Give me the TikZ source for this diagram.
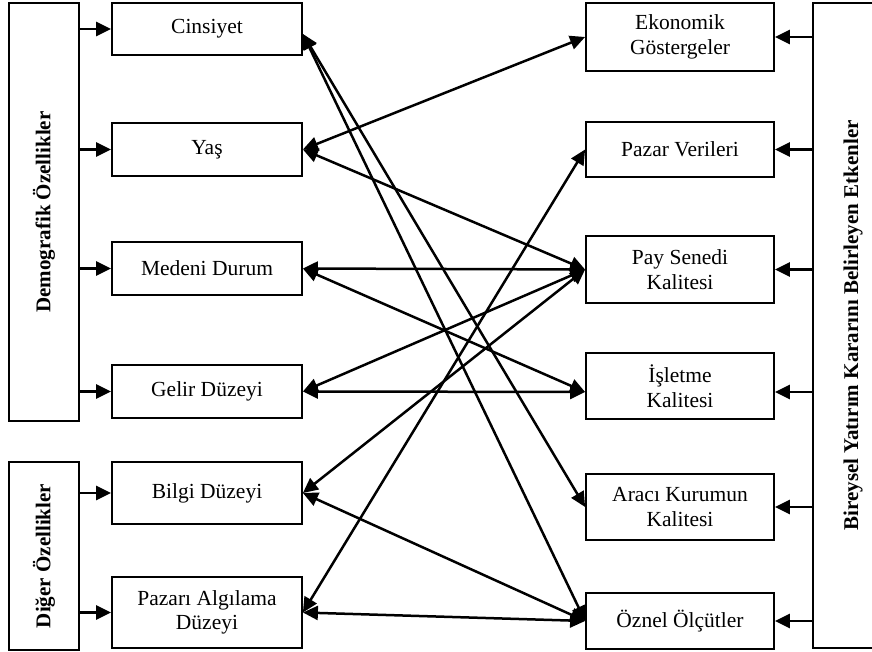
\documentclass[tikz,border=0pt]{standalone}
\usepackage{fontspec}
\setmainfont{Liberation Serif}
\usepackage{tikz}
\usetikzlibrary{arrows.meta,shapes}
\usepackage{tkz-graph}

\tikzset{
  bar/.style={draw, line width=1.8pt, minimum width=70pt, inner sep=0pt,
    font=\fontsize{21}{24}\selectfont\bfseries},
  box/.style={draw, rectangle, line width=1.8pt, minimum width=190pt,
    minimum height=53pt, align=center, inner sep=2pt,
    font=\fontsize{21.5}{24.5}\selectfont},
  rbox/.style={box, minimum width=188pt},
  feed/.style={->, line width=2.6pt},
}

\begin{document}
\begin{tikzpicture}[x=1pt,y=1pt,>={Triangle[length=15pt,width=14pt]}]
    \useasboundingbox (0,0) rectangle (872,652);
    \GraphInit[vstyle=Normal]
    \tikzset{EdgeStyle/.style={<->, line width=2.5pt},
      LabelStyle/.style={inner sep=0pt}}
    % groups
    \node[bar, minimum height=418pt] (demo) at (44,440) {\rotatebox{90}{Demografik Özellikler}};
    \node[bar, minimum height=188pt] (diger) at (44,96) {\rotatebox{90}{Diğer Özellikler}};
    \node[bar, minimum width=80pt, minimum height=645pt] (rbar) at (853,326.5) {\rotatebox{90}{Bireysel Yatırım Kararını Belirleyen Etkenler}};
    % left column
    \node[box, minimum height=52pt] (cins) at (207,623) {Cinsiyet};
    \node[box] (yas) at (207,502.5) {Yaş};
    \node[box] (medeni) at (207,383.5) {Medeni Durum};
    \node[box] (gelir) at (207,260.5) {Gelir Düzeyi};
    \node[box, minimum height=62pt] (bilgi) at (207,159) {Bilgi Düzeyi};
    \node[box, minimum height=71pt] (pazari) at (207,39.5) {Pazarı Algılama\\Düzeyi};
    % right column
    \node[rbox, minimum height=68pt] (ekonomik) at (680,615) {Ekonomik\\Göstergeler};
    \node[rbox, minimum height=55pt] (pazarver) at (680,502.5) {Pazar Verileri};
    \node[rbox, minimum height=67pt] (pay) at (680,382.5) {Pay Senedi\\Kalitesi};
    \node[rbox, minimum height=66pt] (isletme) at (680,266) {İşletme\\Kalitesi};
    \node[rbox, minimum height=66pt] (araci) at (680,145) {Aracı Kurumun\\Kalitesi};
    \node[rbox, minimum height=56pt] (oznel) at (680,31) {Öznel Ölçütler};
    % group arrows
    \foreach \v in {cins,yas,medeni,gelir}
        \draw[feed] (demo.east |- \v) -- (\v.west);
    \foreach \v in {bilgi,pazari}
        \draw[feed] (diger.east |- \v) -- (\v.west);
    \foreach \v in {ekonomik,pazarver,pay,araci,oznel}
        \draw[feed] (rbar.west |- \v) -- (\v.east);
    \draw[feed] ([yshift=-6pt]rbar.west |- isletme) -- ([yshift=-6pt]isletme.east);
    % links
    \Edge([yshift=-5pt]cins.east)(araci.west)
    \Edge([yshift=-5pt]cins.east)(oznel.west)
    \Edge(yas.east)(ekonomik.west)
    \Edge(yas.east)(pay.west)
    \Edge(medeni.east)(pay.west)
    \Edge(medeni.east)([yshift=-6pt]isletme.west)
    \Edge(gelir.east)(pay.west)
    \Edge(gelir.east)([yshift=-6pt]isletme.west)
    \Edge(bilgi.east)(pay.west)
    \Edge(bilgi.east)(oznel.west)
    \Edge(pazari.east)(pazarver.west)
    \Edge(pazari.east)(oznel.west)
\end{tikzpicture}
\end{document}
